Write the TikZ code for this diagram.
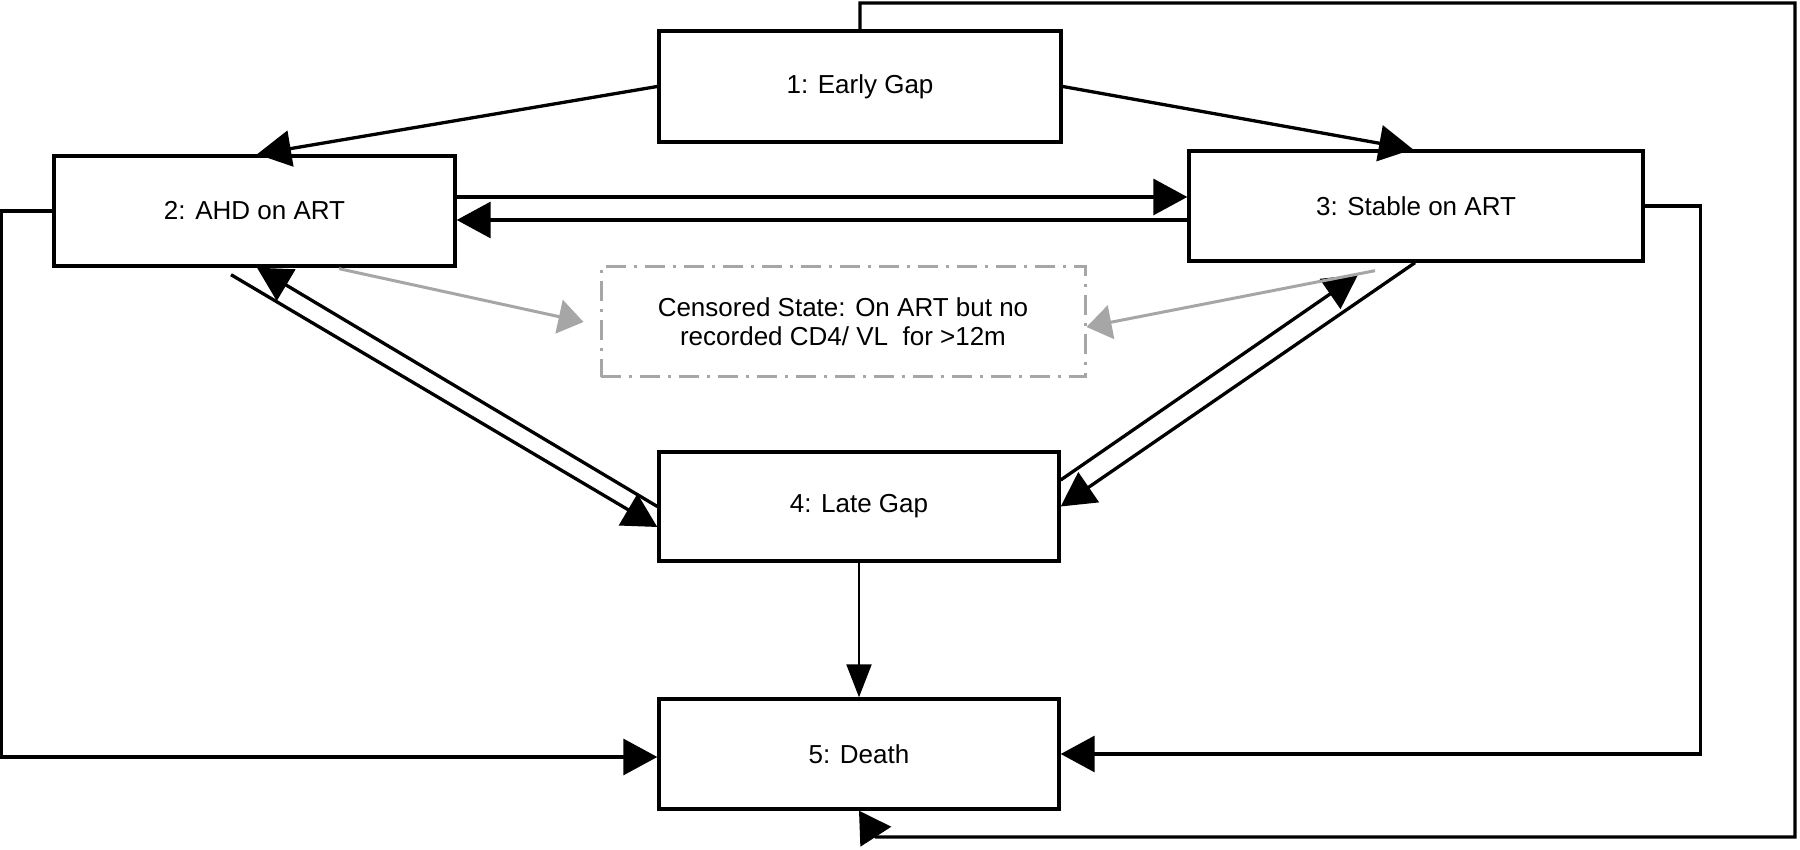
\documentclass[tikz,border=0pt]{standalone}
\usepackage{fontspec}
\setmainfont{Liberation Sans}
\usetikzlibrary{arrows.meta,calc}
\definecolor{grayc}{RGB}{166,166,166}
\begin{document}
\begin{tikzpicture}[x=1pt,y=1pt,
  state/.style={draw=black, line width=3.4pt, minimum width=#1, minimum height=110pt,
    inner sep=0pt, fill=white, font=\fontsize{26}{30}\selectfont},
  cens/.style={draw=grayc, line width=3pt, dash pattern=on 20pt off 8pt on 3pt off 8pt,
    minimum width=484pt, minimum height=110pt, inner sep=0pt, align=center,
    font=\fontsize{26}{29}\selectfont},
  conn/.style={line width=3.3pt, -{Triangle[length=34pt,width=36pt]}},
  thinconn/.style={line width=2.2pt, -{Triangle[length=33pt,width=25pt]}},
  loopconn/.style={line width=3.3pt, -{Triangle[length=31pt,width=36pt]}},
  garr/.style={draw=grayc, line width=3pt, -{Triangle[length=25pt,width=34pt]}}
]
\fill[white] (0,0) rectangle (1800,850);
\useasboundingbox (0,0) rectangle (1800,850);

% nodes
\node[state=402pt, minimum height=111pt] (e1) at (860,763.5) {1: Early Gap};
\node[state=401pt] (a2) at (254.5,639) {2: AHD on ART};
\node[state=454pt] (s3) at (1416,644) {3: Stable on ART};
\node[cens] (cz) at (843,528) {Censored State: On ART but no\\recorded CD4/ VL\ \ for >12m};
\node[state=400pt, minimum height=109pt] (l4) at (859,343.5) {4: Late Gap};
\node[state=400pt] (d5) at (859,96) {5: Death};

\coordinate (tr) at (1795,847);
\coordinate (br) at (1795,13);
\coordinate (bk) at (876,13);

% connectors
\draw[conn] (e1.west) -- ([xshift=2.5pt]a2.north);
\draw[conn] (e1.east) -- ([xshift=-3pt]s3.north);
\draw[conn] ([yshift=14pt]a2.east) -- ([yshift=14pt]a2.east -| s3.west);
\draw[conn] ([yshift=-9pt]a2.east -| s3.west) -- ([yshift=-9pt]a2.east);
\draw[conn] ([shift={(-23.5pt,-7pt)}]a2.south) -- ([yshift=-20.5pt]l4.west);
\draw[conn] (l4.west) -- ([xshift=2.5pt]a2.south);
\draw[conn] ([yshift=26.5pt]l4.east) -- ([shift={(-58pt,-12pt)}]s3.south);
\draw[conn] ([xshift=-1pt]s3.south) -- (l4.east);
\draw[garr] ([shift={(84.5pt,-1pt)}]a2.south) -- ([xshift=-16pt]cz.west);
\draw[garr] ([shift={(-41pt,-8pt)}]s3.south) -- ([yshift=-5pt]cz.east);
\draw[thinconn] (l4.south) -- (d5.north);
\draw[conn] (s3.east) -- ++(56pt,0) |- (d5.east);
\draw[conn] (a2.west) -- ++(-51pt,0) |- ([yshift=-3pt]d5.west);
\draw[loopconn] (e1.north) |- (tr) -- (br) -- (bk) -- (d5.south);
\end{tikzpicture}
\end{document}
